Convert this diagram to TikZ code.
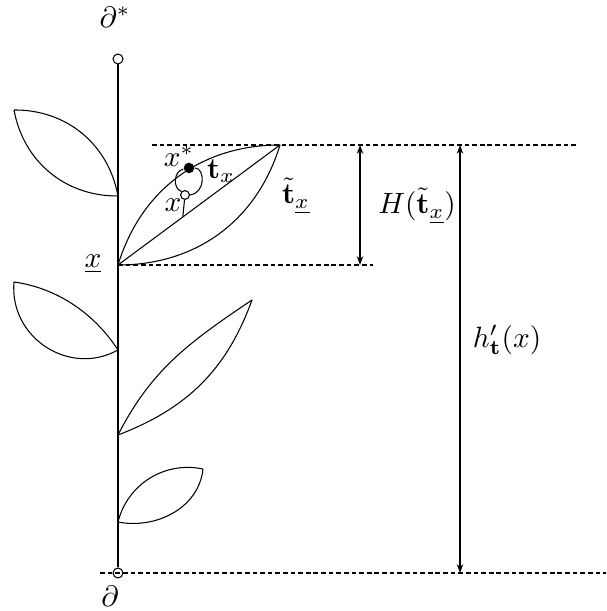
\documentclass[tikz,border=0pt]{standalone}
\usetikzlibrary{arrows.meta,calc}
\begin{document}
\begin{tikzpicture}[x=0.341pt,y=0.341pt,
  leaf/.style={line width=0.36pt},
  stemline/.style={line width=0.42pt},
  dashline/.style={line width=0.36pt,dash pattern=on 1.6pt off 1pt},
  dimline/.style={line width=0.42pt,{Stealth[length=3pt,width=2.2pt]}-{Stealth[length=3pt,width=2.2pt]}},
  endpt/.style={circle,draw,line width=0.36pt,inner sep=0pt,minimum size=3.4pt},
  smallpt/.style={circle,draw,line width=0.36pt,inner sep=0pt,minimum size=3pt},
  blackpt/.style={circle,fill,inner sep=0pt,minimum size=3.6pt},
  lbl/.style={inner sep=0pt}]
\useasboundingbox (0,0) rectangle (606,611);
% stem
\node[endpt] (top) at (118,552) {};
\node[endpt] (bot) at (118,38) {};
\draw[stemline] (top) -- (bot);
% main leaf
\coordinate (A) at (118,346);
\coordinate (B) at (280,466);
\draw[leaf] (A) to[out=73,in=180] (B);
\draw[leaf] (A) to[out=0,in=253] (B);
\draw[leaf] (A) -- (B);
% leaf 1 (top left)
\coordinate (P1) at (14,501);
\coordinate (Q1) at (118,415);
\draw[leaf] (P1) to[bend left=40] (Q1);
\draw[leaf] (P1) to[bend right=40] (Q1);
% leaf 2 (middle left)
\coordinate (P2) at (14,329);
\coordinate (Q2) at (118,261);
\draw[leaf] (P2) to[out=-8,in=123,looseness=0.9] (Q2);
\draw[leaf] (P2) to[out=265,in=209,looseness=1.15] (Q2);
% leaf 3 (long)
\coordinate (A3) at (118,176);
\coordinate (T3) at (252,311);
\draw[leaf] (A3) to[out=63,in=214] (T3);
\draw[leaf] (A3) to[out=21,in=250] (T3);
% leaf 4 (small)
\coordinate (L4) at (118,89);
\coordinate (R4) at (203,142);
\draw[leaf] (L4) to[out=76,in=168] (R4);
\draw[leaf] (L4) to[out=-11,in=264] (R4);
% loop
\node[blackpt] (xs) at (189,443) {};
\node[smallpt] (xo) at (185,416) {};
\draw[leaf] (xs) .. controls (174,440) and (172,423) .. (xo.north west);
\draw[leaf] (xs) .. controls (205,443) and (206,418) .. (xo.east);
\coordinate (C) at ($(A)!0.4!(B)$);
\draw[leaf] (xo) -- (C);
% dashed lines
\coordinate (t1) at (152,466);
\coordinate (t2) at (578,466);
\coordinate (m2) at (373,346);
\coordinate (b1) at (100,38);
\coordinate (b2) at (606,38);
\draw[dashline] (t1) -- (t2);
\draw[dashline] (A) -- (m2);
\draw[dashline] (b1) -- (b2);
% dimension arrows
\coordinate (H1) at (360,466);
\coordinate (H2) at (360,346);
\draw[dimline] (H1) -- (H2);
\coordinate (h1) at (460,466);
\coordinate (h2) at (460,38);
\draw[dimline] (h1) -- (h2);
% labels
\node[lbl] (ldstar) at (115,594) {$\partial^*$};
\node[lbl] (ld) at (110,15) {$\partial$};
\node[lbl] (lxstar) at (179,455) {$x^*$};
\node[lbl] (ltx) at (221,440) {$\mathbf{t}_x$};
\node[lbl] (lx) at (173,406) {$x$};
\node[lbl] (lttx) at (296,415) {$\tilde{\mathbf{t}}_{\underline{x}}$};
\node[lbl] (lux) at (93,347) {$\underline{x}$};
\node[lbl] (lH) at (417,405) {$H(\tilde{\mathbf{t}}_{\underline{x}})$};
\node[lbl] (lh) at (507,271) {$h'_{\mathbf{t}}(x)$};
\end{tikzpicture}
\end{document}
